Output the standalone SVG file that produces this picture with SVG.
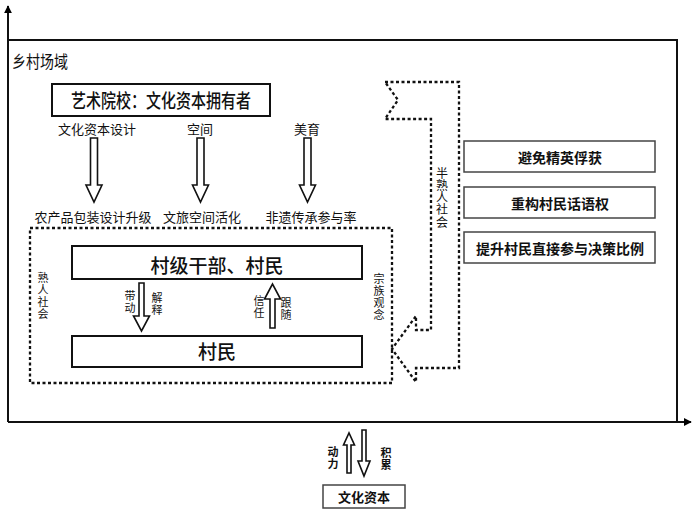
<svg xmlns="http://www.w3.org/2000/svg" width="692" height="512" viewBox="0 0 692 512">
<defs>
<marker id="ah" viewBox="0 0 10 10" refX="9" refY="5" markerWidth="8" markerHeight="8" markerUnits="userSpaceOnUse" orient="auto"><path d="M0,0 L10,5 L0,10 Z" fill="#000"/></marker>
<style>
text{font-family:"Noto Sans CJK SC","Noto Sans",sans-serif;fill:#111;}
.box{fill:#fff;stroke:#111;stroke-width:2;}
.gbox{fill:#fff;stroke:#444;stroke-width:1.5;}
.dot{fill:none;stroke:#111;stroke-width:2.3;stroke-dasharray:3 2.5;}
.harrow{fill:#fff;stroke:#111;stroke-width:1.6;stroke-linejoin:miter;}
.lbl{font-size:13px;text-anchor:middle;}
.vt{font-size:11px;writing-mode:vertical-rl;text-orientation:upright;letter-spacing:1px;}
</style>
</defs>
<rect width="692" height="512" fill="#fff"/>
<g id="axes">
<line x1="8" y1="422" x2="8" y2="6" stroke="#111" stroke-width="2" marker-end="url(#ah)"/>
<line x1="8" y1="422" x2="691" y2="422" stroke="#111" stroke-width="2" marker-end="url(#ah)"/>
</g>
<g id="field">
<polyline points="8,40 677,40 677,422" fill="none" stroke="#111" stroke-width="2"/>
<text x="12" y="68" font-size="17" textLength="56" lengthAdjust="spacingAndGlyphs">乡村场域</text>
</g>
<g id="school">
<rect class="box" x="52" y="84" width="218" height="32"/>
<text x="161" y="108" font-size="19" font-weight="500" text-anchor="middle" textLength="180" lengthAdjust="spacingAndGlyphs">艺术院校：文化资本拥有者</text>
</g>
<g id="acquaintance">
<rect class="dot" x="30" y="228" width="362" height="155"/>
<text class="vt" x="43" y="272">熟人社会</text>
<text class="vt" x="379" y="273">宗族观念</text>
</g>
<g id="cadre">
<rect class="box" x="72" y="246" width="290" height="33"/>
<text x="217" y="273" font-size="19" font-weight="500" text-anchor="middle">村级干部、村民</text>
</g>
<g id="villager">
<rect class="box" x="72" y="336" width="290" height="31"/>
<text x="217" y="359" font-size="19" font-weight="500" text-anchor="middle">村民</text>
</g>
<g id="semi">
<path class="dot" d="M385,82 L459,82 L459,368 L416,368 L416,382 L392,349 L416,316 L416,330 L431,330 L431,119 L385,119 L398,100 Z"/>
<text class="vt" x="442" y="167" font-size="12" style="font-size:12px;letter-spacing:0.3px">半熟人社会</text>
</g>
<g id="r1"><rect class="gbox" x="464" y="141" width="191" height="31"/><text x="560" y="163" font-size="14" font-weight="bold" text-anchor="middle">避免精英俘获</text></g>
<g id="r2"><rect class="gbox" x="464" y="187" width="191" height="31"/><text x="560" y="209" font-size="14" font-weight="bold" text-anchor="middle">重构村民话语权</text></g>
<g id="r3"><rect class="gbox" x="464" y="232" width="191" height="31"/><text x="560" y="254" font-size="14" font-weight="bold" text-anchor="middle">提升村民直接参与决策比例</text></g>
<g id="capital">
<rect class="gbox" x="323" y="485" width="82" height="23" stroke="#111"/>
<text x="364" y="502" font-size="13" font-weight="bold" text-anchor="middle">文化资本</text>
</g>
<g id="connectors">
<text class="lbl" x="97" y="134">文化资本设计</text>
<text class="lbl" x="200" y="134">空间</text>
<text class="lbl" x="307" y="134">美育</text>
<path class="harrow" d="M90.5,138 L97.5,138 L97.5,185 L102,185 L94,202 L86,185 L90.5,185 Z"/>
<path class="harrow" d="M197,138 L204,138 L204,185 L208.5,185 L200.5,202 L192.5,185 L197,185 Z"/>
<path class="harrow" d="M304,138 L311,138 L311,185 L315.5,185 L307.5,202 L299.5,185 L304,185 Z"/>
<text class="lbl" x="93" y="222">农产品包装设计升级</text>
<text class="lbl" x="202" y="222">文旅空间活化</text>
<text class="lbl" x="311" y="222">非遗传承参与率</text>
<path class="harrow" d="M139,283 L144,283 L144,316 L149.5,316 L141.5,331 L133.5,316 L139,316 Z"/>
<text class="vt" x="130" y="290">带动</text>
<text class="vt" x="157" y="292">解释</text>
<path class="harrow" d="M270,328 L275,328 L275,299 L280.5,299 L272.5,284 L264.5,299 L270,299 Z"/>
<text class="vt" x="259" y="295">信任</text>
<text class="vt" x="286" y="297">跟随</text>
<path class="harrow" d="M347,473 L351,473 L351,445 L354.5,445 L349,433 L343.5,445 L347,445 Z"/>
<path class="harrow" d="M362,430 L366,430 L366,461 L370,461 L364,476 L358,461 L362,461 Z"/>
<text class="vt" x="333" y="446" font-weight="bold">动力</text>
<text class="vt" x="386" y="447" font-weight="bold">积累</text>
</g>
</svg>
